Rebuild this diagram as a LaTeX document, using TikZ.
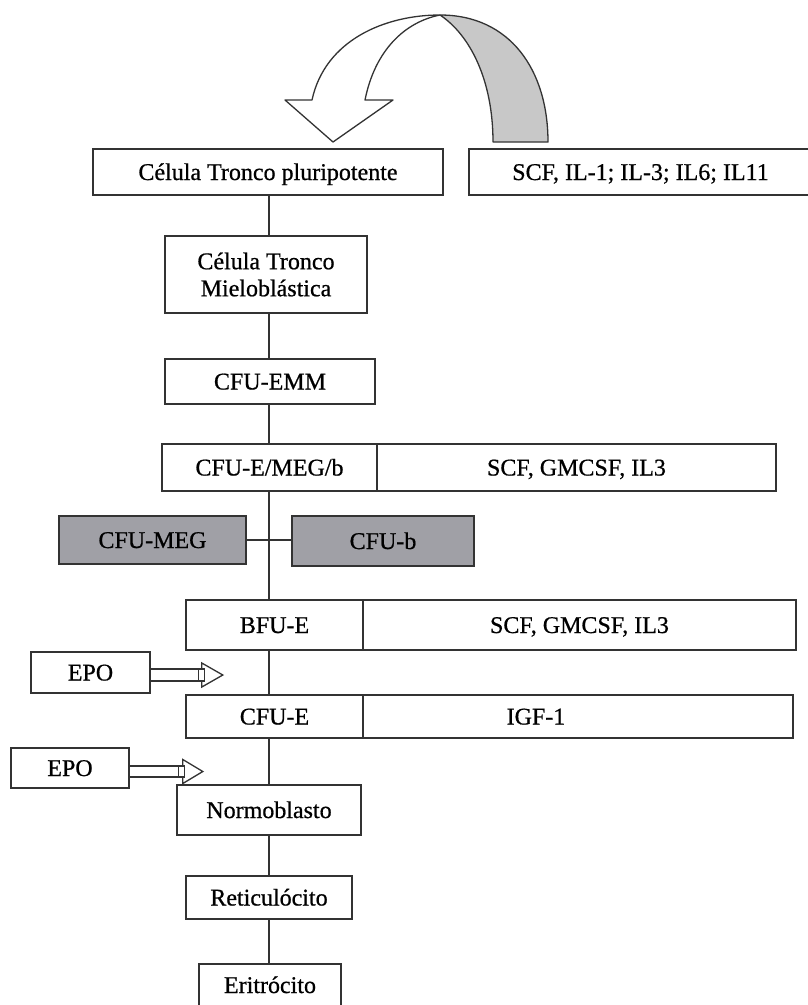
\documentclass[tikz,border=0pt]{standalone}
\usepackage{fontspec}
\setmainfont{Liberation Serif}[FakeBold=0.7]
\definecolor{ln}{HTML}{333333}
\definecolor{megfill}{RGB}{160,160,166}
\definecolor{ribbon}{RGB}{200,200,200}
\tikzset{
  box/.style={draw=ln, line width=1.6pt, fill=white, inner sep=0pt, font=\fontsize{24}{27}\selectfont, align=center, text height=16pt, text depth=0pt},
  graybox/.style={box, fill=megfill},
  conn/.style={draw=ln, line width=1.6pt},
  blockarrow/.style={draw=ln, line width=1.3pt, fill=white, line join=miter},
  ribbonline/.style={draw=ln, line width=1.3pt, line join=round}
}
\begin{document}
\begin{tikzpicture}[x=1pt,y=-1pt]
\useasboundingbox (0,0) rectangle (808,1005);
\coordinate (ax) at (269,0);

% curved ribbon arrow
\filldraw[ribbonline, fill=ribbon] (440,15) .. controls (510,15) and (548,70) .. (548,142) -- (493,142) .. controls (493,80) and (470,35) .. (440,15) -- cycle;
\filldraw[ribbonline, fill=white] (285,100) -- (312,100) .. controls (325,40) and (385,15) .. (440,15) .. controls (405,22) and (375,50) .. (365,100) -- (393,100) -- (333,142) -- cycle;

% nodes
\node[box, minimum width=350pt, minimum height=46pt] (b1) at (268,172) {Célula Tronco pluripotente};
\node[box, minimum width=343pt, minimum height=46pt] (scf) at (640.5,172) {SCF, IL-1; IL-3; IL6; IL11};
\node[box, text height=, text depth=, minimum width=202pt, minimum height=77pt] (b2) at (266,274.5) {Célula Tronco\\Mieloblástica};
\node[box, minimum width=210pt, minimum height=45pt] (b3) at (270,381.5) {CFU-EMM};
\node[box, minimum width=215pt, minimum height=47pt] (b4) at (269.5,467.5) {CFU-E/MEG/b};
\node[box, minimum width=399pt, minimum height=47pt] (r4) at (576.5,467.5) {SCF, GMCSF, IL3};
\node[graybox, minimum width=187pt, minimum height=48pt] (meg) at (152.5,540) {CFU-MEG};
\node[graybox, minimum width=182pt, minimum height=50pt] (cfub) at (383,541) {CFU-b};
\node[box, minimum width=177pt, minimum height=50pt] (bfu) at (274.5,625) {BFU-E};
\node[box, minimum width=433pt, minimum height=50pt] (r8) at (579.5,625) {SCF, GMCSF, IL3};
\node[box, minimum width=119pt, minimum height=41pt] (epo1) at (90.5,672.5) {EPO};
\node[box, minimum width=177pt, minimum height=43pt] (cfue) at (274.5,716.5) {CFU-E};
\node[box, minimum width=430pt, minimum height=43pt] (r10) at (578,716.5) {};
\node[font=\fontsize{24}{27}\selectfont, inner sep=0pt, text height=16pt, text depth=0pt] (igf) at (536,716.5) {IGF-1};
\node[box, minimum width=118pt, minimum height=40pt] (epo2) at (70,768) {EPO};
\node[box, minimum width=184pt, minimum height=50pt] (normo) at (269,810) {Normoblasto};
\node[box, minimum width=166pt, minimum height=43pt] (reti) at (269,897.5) {Reticulócito};
\node[box, minimum width=142pt, minimum height=48pt, text height=17pt, text depth=7pt] (eri) at (270,988) {Eritrócito};

% connectors
\draw[conn] (b1.south -| ax) -- (b2.north -| ax);
\draw[conn] (b2.south -| ax) -- (b3.north -| ax);
\draw[conn] (b3.south -| ax) -- (b4.north -| ax);
\draw[conn] (b4.south -| ax) -- (bfu.north -| ax);
\draw[conn] (meg.east) -- (meg.east -| cfub.west);
\draw[conn] (bfu.south -| ax) -- (cfue.north -| ax);
\draw[conn] (cfue.south -| ax) -- (normo.north -| ax);
\draw[conn] (normo.south -| ax) -- (reti.north -| ax);
\draw[conn] (reti.south -| ax) -- (eri.north -| ax);

% EPO block arrows
\coordinate (a1) at ([yshift=-2.5pt]epo1.east);
\coordinate (t1) at ([xshift=72pt]a1);
\filldraw[blockarrow] ([xshift=51pt,yshift=12pt]a1) -- (t1) -- ([xshift=51pt,yshift=-12pt]a1) -- cycle;
\filldraw[blockarrow] ([yshift=6pt]a1) -- ++(54,0) -- ++(0,12) -- ++(-54,0);
\draw[blockarrow] ([xshift=48pt,yshift=6pt]a1) -- ++(0,12);

\coordinate (a2) at ([yshift=-3.5pt]epo2.east);
\coordinate (t2) at ([xshift=73pt]a2);
\filldraw[blockarrow] ([xshift=53pt,yshift=12pt]a2) -- (t2) -- ([xshift=53pt,yshift=-12pt]a2) -- cycle;
\filldraw[blockarrow] ([yshift=5.5pt]a2) -- ++(55,0) -- ++(0,11) -- ++(-55,0);
\draw[blockarrow] ([xshift=49pt,yshift=5.5pt]a2) -- ++(0,11);
\end{tikzpicture}
\end{document}
